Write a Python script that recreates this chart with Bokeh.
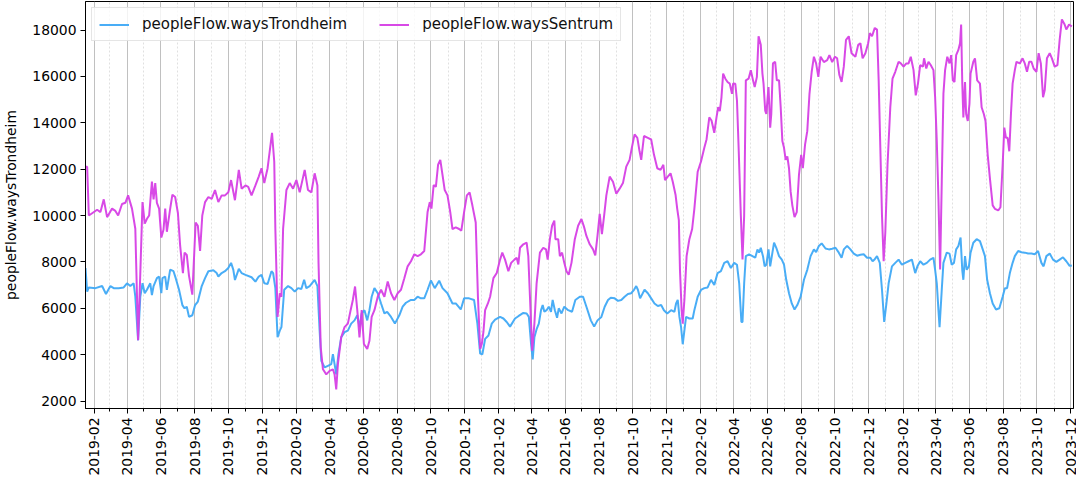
import math
import pandas as pd
from bokeh.plotting import figure
from bokeh.models import FixedTicker, DatetimeTickFormatter, Range1d
from bokeh.embed import file_html
from bokeh.resources import INLINE

# ---------------- data ----------------
trondheim_dates = [
    "2019-01-16", "2019-01-19", "2019-01-22", "2019-02-03", "2019-02-15", "2019-02-22", "2019-03-02", "2019-03-08",
    "2019-03-17", "2019-03-26", "2019-04-01", "2019-04-07", "2019-04-13", "2019-04-16", "2019-04-21", "2019-04-25",
    "2019-04-29", "2019-05-03", "2019-05-07", "2019-05-13", "2019-05-16", "2019-05-19", "2019-05-25", "2019-05-29",
    "2019-06-02", "2019-06-04", "2019-06-09", "2019-06-12", "2019-06-18", "2019-06-24", "2019-06-28", "2019-07-04",
    "2019-07-10", "2019-07-14", "2019-07-18", "2019-07-22", "2019-07-28", "2019-08-02", "2019-08-07", "2019-08-14",
    "2019-08-20", "2019-08-26", "2019-09-04", "2019-09-10", "2019-09-13", "2019-09-19", "2019-09-25", "2019-10-01",
    "2019-10-06", "2019-10-10", "2019-10-13", "2019-10-20", "2019-10-25", "2019-11-01", "2019-11-12", "2019-11-19",
    "2019-11-25", "2019-11-30", "2019-12-05", "2019-12-11", "2019-12-18", "2019-12-21", "2019-12-25", "2019-12-29",
    "2020-01-02", "2020-01-05", "2020-01-10", "2020-01-17", "2020-01-23", "2020-01-29", "2020-02-04", "2020-02-10",
    "2020-02-15", "2020-02-19", "2020-02-25", "2020-03-05", "2020-03-10", "2020-03-14", "2020-03-17", "2020-03-23",
    "2020-03-29", "2020-04-04", "2020-04-07", "2020-04-10", "2020-04-13", "2020-04-17", "2020-04-22", "2020-04-28",
    "2020-05-04", "2020-05-10", "2020-05-16", "2020-05-21", "2020-05-25", "2020-05-29", "2020-06-03", "2020-06-08",
    "2020-06-12", "2020-06-16", "2020-06-21", "2020-06-27", "2020-07-03", "2020-07-09", "2020-07-14", "2020-07-21",
    "2020-07-28", "2020-08-05", "2020-08-11", "2020-08-17", "2020-08-26", "2020-09-01", "2020-09-07", "2020-09-13",
    "2020-09-19", "2020-09-25", "2020-10-01", "2020-10-08", "2020-10-16", "2020-10-22", "2020-10-31", "2020-11-09",
    "2020-11-15", "2020-11-24", "2020-11-30", "2020-12-09", "2020-12-18", "2020-12-24", "2020-12-29", "2021-01-02",
    "2021-01-07", "2021-01-13", "2021-01-19", "2021-01-25", "2021-02-03", "2021-02-09", "2021-02-15", "2021-02-21",
    "2021-03-02", "2021-03-08", "2021-03-17", "2021-03-23", "2021-03-27", "2021-03-31", "2021-04-03", "2021-04-06",
    "2021-04-10", "2021-04-14", "2021-04-18", "2021-04-21", "2021-04-24", "2021-04-28", "2021-05-02", "2021-05-06",
    "2021-05-09", "2021-05-13", "2021-05-17", "2021-05-20", "2021-05-25", "2021-05-30", "2021-06-06", "2021-06-13",
    "2021-06-19", "2021-06-27", "2021-07-03", "2021-07-09", "2021-07-17", "2021-07-23", "2021-07-29", "2021-08-05",
    "2021-08-11", "2021-08-17", "2021-08-22", "2021-08-29", "2021-09-04", "2021-09-10", "2021-09-16", "2021-09-22",
    "2021-09-28", "2021-10-03", "2021-10-07", "2021-10-10", "2021-10-14", "2021-10-22", "2021-10-28", "2021-11-03",
    "2021-11-09", "2021-11-15", "2021-11-21", "2021-11-26", "2021-12-02", "2021-12-09", "2021-12-15", "2021-12-18",
    "2021-12-21", "2021-12-24", "2021-12-27", "2021-12-30", "2022-01-05", "2022-01-11", "2022-01-17", "2022-01-20",
    "2022-01-26", "2022-02-01", "2022-02-07", "2022-02-13", "2022-02-19", "2022-02-25", "2022-03-03", "2022-03-09",
    "2022-03-15", "2022-03-21", "2022-03-27", "2022-04-02", "2022-04-07", "2022-04-11", "2022-04-15", "2022-04-17",
    "2022-04-20", "2022-04-23", "2022-04-29", "2022-05-05", "2022-05-10", "2022-05-14", "2022-05-17", "2022-05-20",
    "2022-05-24", "2022-05-27", "2022-05-30", "2022-06-03", "2022-06-06", "2022-06-09", "2022-06-13", "2022-06-17",
    "2022-06-22", "2022-06-27", "2022-07-01", "2022-07-05", "2022-07-10", "2022-07-15", "2022-07-20", "2022-07-25",
    "2022-07-31", "2022-08-06", "2022-08-12", "2022-08-18", "2022-08-24", "2022-08-28", "2022-09-02", "2022-09-07",
    "2022-09-14", "2022-09-20", "2022-09-26", "2022-10-02", "2022-10-08", "2022-10-13", "2022-10-17", "2022-10-23",
    "2022-10-29", "2022-11-04", "2022-11-10", "2022-11-16", "2022-11-22", "2022-11-28", "2022-12-04", "2022-12-08",
    "2022-12-12", "2022-12-16", "2022-12-21", "2022-12-25", "2022-12-29", "2023-01-02", "2023-01-06", "2023-01-12",
    "2023-01-18", "2023-01-24", "2023-01-30", "2023-02-05", "2023-02-11", "2023-02-17", "2023-02-23", "2023-02-27",
    "2023-03-04", "2023-03-10", "2023-03-16", "2023-03-22", "2023-03-28", "2023-03-31", "2023-04-03", "2023-04-06",
    "2023-04-08", "2023-04-12", "2023-04-15", "2023-04-21", "2023-04-26", "2023-04-30", "2023-05-04", "2023-05-08",
    "2023-05-12", "2023-05-16", "2023-05-19", "2023-05-21", "2023-05-24", "2023-05-27", "2023-05-31", "2023-06-03",
    "2023-06-08", "2023-06-14", "2023-06-20", "2023-06-25", "2023-06-29", "2023-07-03", "2023-07-08", "2023-07-13",
    "2023-07-19", "2023-07-25", "2023-07-31", "2023-08-04", "2023-08-08", "2023-08-13", "2023-08-18", "2023-08-22",
    "2023-08-28", "2023-09-03", "2023-09-09", "2023-09-15", "2023-09-21", "2023-09-27", "2023-10-03", "2023-10-09",
    "2023-10-13", "2023-10-18", "2023-10-24", "2023-10-30", "2023-11-05", "2023-11-11", "2023-11-17", "2023-11-23",
    "2023-11-29", "2023-12-03",
]
trondheim = [
    7740, 6720, 6900, 6870, 6960, 6620, 6960, 6870,
    6870, 6900, 7080, 6960, 7080, 6500, 4620, 6500,
    7080, 6650, 6800, 7080, 6570, 6960, 7300, 7370,
    6650, 7300, 7370, 6800, 7670, 7600, 7300, 6800,
    6140, 6000, 6070, 5630, 5700, 6140, 6290, 6960,
    7300, 7600, 7640, 7520, 7370, 7520, 7600, 7740,
    7960, 7670, 7220, 7700, 7520, 7440, 7340, 7150,
    7370, 7440, 7080, 7050, 7600, 7520, 6870, 4750,
    5040, 5190, 6800, 6960, 6870, 6720, 6870, 6830,
    7230, 6870, 6960, 7230, 6960, 5040, 3740, 3450,
    3520, 3590, 4020, 3590, 3150, 4020, 4750, 4970,
    5040, 5340, 5480, 5700, 5190, 5780, 5920, 5480,
    5920, 6500, 6870, 6650, 6210, 5780, 5850, 5630,
    5340, 5700, 6070, 6240, 6360, 6360, 6500, 6430,
    6430, 6800, 7200, 6870, 7190, 6870, 6650, 6210,
    6210, 5950, 6430, 6430, 6360, 5340, 4050, 4020,
    4680, 4830, 5340, 5510, 5630, 5560, 5410, 5210,
    5560, 5660, 5800, 5780, 5630, 4460, 3800, 4750,
    5100, 5340, 5920, 6140, 5850, 5920, 6070, 5850,
    6360, 5920, 5590, 6000, 5780, 6070, 5920, 5850,
    6360, 6500, 6500, 6070, 5480, 5210, 5480, 5630,
    6070, 6360, 6460, 6430, 6320, 6360, 6500, 6620,
    6650, 6800, 6960, 6800, 6430, 6800, 6650, 6430,
    6210, 6100, 6140, 5920, 5780, 5920, 5850, 6210,
    6360, 5630, 5190, 4450, 5630, 5560, 5560, 5920,
    6500, 6790, 6870, 6900, 7230, 7010, 7520, 7600,
    7960, 8030, 7740, 7960, 7880, 7080, 5410, 5410,
    7080, 8250, 8330, 8250, 8180, 8540, 8400, 8610,
    8250, 7810, 7880, 8540, 7810, 8250, 8830, 8610,
    8250, 8100, 7880, 7230, 6650, 6210, 5950, 6140,
    6500, 7230, 7660, 8250, 8540, 8420, 8690, 8800,
    8580, 8540, 8570, 8610, 8400, 8180, 8540, 8690,
    8540, 8360, 8270, 8310, 8330, 8180, 8180, 8030,
    8120, 8250, 7960, 6800, 5410, 6210, 7080, 7810,
    7960, 8100, 7880, 7960, 8030, 8100, 7520, 7810,
    8030, 7880, 7960, 8100, 8180, 7660, 7080, 5920,
    5190, 6800, 7960, 8400, 8360, 7880, 7960, 8540,
    8690, 9050, 7660, 7230, 8250, 7660, 7810, 8400,
    8830, 8980, 8900, 8540, 8250, 7230, 6650, 6210,
    5950, 6000, 6500, 6870, 6870, 7520, 7960, 8250,
    8470, 8420, 8400, 8360, 8360, 8330, 8470, 7960,
    7810, 8250, 8360, 8100, 8000, 8100, 8200, 8030,
    7830, 7850,
]

sentrum_dates = [
    "2019-01-16", "2019-01-19", "2019-01-22", "2019-01-28", "2019-02-06", "2019-02-12", "2019-02-18", "2019-02-24",
    "2019-03-05", "2019-03-11", "2019-03-16", "2019-03-23", "2019-03-29", "2019-04-03", "2019-04-10", "2019-04-16",
    "2019-04-21", "2019-04-25", "2019-04-29", "2019-05-03", "2019-05-07", "2019-05-11", "2019-05-16", "2019-05-19",
    "2019-05-22", "2019-05-25", "2019-05-29", "2019-06-02", "2019-06-06", "2019-06-09", "2019-06-12", "2019-06-18",
    "2019-06-22", "2019-06-27", "2019-07-02", "2019-07-06", "2019-07-11", "2019-07-14", "2019-07-18", "2019-07-22",
    "2019-07-28", "2019-08-03", "2019-08-07", "2019-08-11", "2019-08-15", "2019-08-20", "2019-08-26", "2019-09-01",
    "2019-09-07", "2019-09-13", "2019-09-19", "2019-09-25", "2019-10-01", "2019-10-06", "2019-10-13", "2019-10-20",
    "2019-10-25", "2019-11-01", "2019-11-06", "2019-11-12", "2019-11-19", "2019-11-25", "2019-11-30", "2019-12-05",
    "2019-12-11", "2019-12-19", "2019-12-23", "2019-12-25", "2019-12-29", "2020-01-02", "2020-01-05", "2020-01-08",
    "2020-01-14", "2020-01-20", "2020-01-26", "2020-02-01", "2020-02-07", "2020-02-16", "2020-02-22", "2020-02-28",
    "2020-03-05", "2020-03-10", "2020-03-12", "2020-03-16", "2020-03-20", "2020-03-26", "2020-04-01", "2020-04-07",
    "2020-04-10", "2020-04-13", "2020-04-16", "2020-04-22", "2020-04-28", "2020-05-04", "2020-05-09", "2020-05-13",
    "2020-05-17", "2020-05-21", "2020-05-25", "2020-05-29", "2020-06-02", "2020-06-08", "2020-06-12", "2020-06-16",
    "2020-06-21", "2020-06-27", "2020-07-03", "2020-07-09", "2020-07-15", "2020-07-21", "2020-07-27", "2020-08-02",
    "2020-08-08", "2020-08-14", "2020-08-20", "2020-08-26", "2020-09-01", "2020-09-07", "2020-09-13", "2020-09-19",
    "2020-09-25", "2020-09-29", "2020-10-02", "2020-10-06", "2020-10-10", "2020-10-14", "2020-10-18", "2020-10-22",
    "2020-10-26", "2020-10-31", "2020-11-05", "2020-11-09", "2020-11-15", "2020-11-21", "2020-11-25", "2020-11-30",
    "2020-12-05", "2020-12-10", "2020-12-15", "2020-12-21", "2020-12-25", "2020-12-29", "2021-01-01", "2021-01-04",
    "2021-01-07", "2021-01-12", "2021-01-16", "2021-01-22", "2021-01-28", "2021-02-03", "2021-02-07", "2021-02-12",
    "2021-02-18", "2021-02-23", "2021-03-01", "2021-03-05", "2021-03-08", "2021-03-11", "2021-03-17", "2021-03-23",
    "2021-03-26", "2021-03-29", "2021-04-02", "2021-04-06", "2021-04-10", "2021-04-16", "2021-04-22", "2021-04-27",
    "2021-04-30", "2021-05-04", "2021-05-08", "2021-05-12", "2021-05-14", "2021-05-19", "2021-05-22", "2021-05-26",
    "2021-05-30", "2021-06-03", "2021-06-07", "2021-06-12", "2021-06-18", "2021-06-24", "2021-06-30", "2021-07-05",
    "2021-07-09", "2021-07-15", "2021-07-21", "2021-07-25", "2021-07-29", "2021-08-02", "2021-08-06", "2021-08-10",
    "2021-08-14", "2021-08-20", "2021-08-26", "2021-09-01", "2021-09-07", "2021-09-13", "2021-09-19", "2021-09-25",
    "2021-09-29", "2021-10-04", "2021-10-09", "2021-10-13", "2021-10-16", "2021-10-21", "2021-10-28", "2021-11-03",
    "2021-11-08", "2021-11-14", "2021-11-20", "2021-11-25", "2021-11-28", "2021-12-03", "2021-12-08", "2021-12-12",
    "2021-12-17", "2021-12-20", "2021-12-23", "2021-12-25", "2021-12-28", "2021-12-30", "2022-01-02", "2022-01-06",
    "2022-01-11", "2022-01-16", "2022-01-20", "2022-01-26", "2022-02-01", "2022-02-07", "2022-02-11", "2022-02-16",
    "2022-02-20", "2022-02-25", "2022-03-01", "2022-03-04", "2022-03-07", "2022-03-10", "2022-03-13", "2022-03-17",
    "2022-03-21", "2022-03-25", "2022-03-29", "2022-03-31", "2022-04-04", "2022-04-07", "2022-04-10", "2022-04-14",
    "2022-04-17", "2022-04-20", "2022-04-23", "2022-04-28", "2022-05-02", "2022-05-06", "2022-05-09", "2022-05-13",
    "2022-05-16", "2022-05-20", "2022-05-23", "2022-05-25", "2022-05-28", "2022-05-30", "2022-06-03", "2022-06-06",
    "2022-06-08", "2022-06-11", "2022-06-15", "2022-06-18", "2022-06-22", "2022-06-25", "2022-06-28", "2022-07-01",
    "2022-07-04", "2022-07-07", "2022-07-10", "2022-07-13", "2022-07-16", "2022-07-20", "2022-07-24", "2022-07-28",
    "2022-08-01", "2022-08-04", "2022-08-08", "2022-08-12", "2022-08-16", "2022-08-20", "2022-08-24", "2022-08-28",
    "2022-09-01", "2022-09-05", "2022-09-11", "2022-09-17", "2022-09-21", "2022-09-26", "2022-10-01", "2022-10-05",
    "2022-10-09", "2022-10-13", "2022-10-17", "2022-10-21", "2022-10-26", "2022-10-31", "2022-11-07", "2022-11-12",
    "2022-11-16", "2022-11-20", "2022-11-25", "2022-11-30", "2022-12-03", "2022-12-07", "2022-12-12", "2022-12-16",
    "2022-12-19", "2022-12-22", "2022-12-25", "2022-12-28", "2022-12-31", "2023-01-04", "2023-01-09", "2023-01-13",
    "2023-01-18", "2023-01-24", "2023-01-28", "2023-02-02", "2023-02-07", "2023-02-11", "2023-02-15", "2023-02-20",
    "2023-02-24", "2023-02-28", "2023-03-04", "2023-03-09", "2023-03-11", "2023-03-15", "2023-03-19", "2023-03-23",
    "2023-03-28", "2023-03-31", "2023-04-03", "2023-04-06", "2023-04-09", "2023-04-12", "2023-04-15", "2023-04-18",
    "2023-04-22", "2023-04-26", "2023-04-29", "2023-05-02", "2023-05-05", "2023-05-08", "2023-05-12", "2023-05-15",
    "2023-05-17", "2023-05-19", "2023-05-21", "2023-05-24", "2023-05-26", "2023-05-29", "2023-06-01", "2023-06-03",
    "2023-06-08", "2023-06-11", "2023-06-15", "2023-06-20", "2023-06-23", "2023-06-27", "2023-06-30", "2023-07-04",
    "2023-07-08", "2023-07-13", "2023-07-17", "2023-07-23", "2023-07-27", "2023-07-31", "2023-08-03", "2023-08-06",
    "2023-08-09", "2023-08-12", "2023-08-15", "2023-08-18", "2023-08-22", "2023-08-25", "2023-08-31", "2023-09-05",
    "2023-09-09", "2023-09-13", "2023-09-17", "2023-09-21", "2023-09-25", "2023-09-30", "2023-10-04", "2023-10-08",
    "2023-10-12", "2023-10-15", "2023-10-19", "2023-10-24", "2023-10-28", "2023-11-02", "2023-11-07", "2023-11-11",
    "2023-11-15", "2023-11-20", "2023-11-23", "2023-11-28", "2023-12-03",
]
sentrum = [
    12100, 12100, 10000, 10100, 10250, 10150, 10700, 9930,
    10300, 10200, 10000, 10500, 10550, 10870, 10300, 9430,
    4620, 7500, 10580, 9650, 9860, 10000, 11460, 10700,
    11400, 10550, 10300, 9050, 9400, 10300, 9300, 10300,
    10900, 10800, 10100, 8700, 7520, 8400, 8300, 7400,
    6590, 9700, 9560, 8470, 10000, 10580, 10800, 10720,
    11100, 10580, 10870, 10870, 11000, 11530, 10660, 11970,
    11160, 11300, 11240, 10870, 11300, 11680, 12040, 11400,
    12040, 13570, 12330, 9430, 5630, 6650, 6500, 9430,
    11100, 11400, 11160, 11530, 11000, 11970, 11100, 11000,
    11820, 11300, 7960, 4320, 3370, 3150, 3300, 3370,
    3150, 2500, 3590, 4750, 5190, 5340, 5920, 6360,
    6940, 5920, 4750, 5920, 4460, 4250, 4600, 5630,
    5920, 6500, 6800, 6500, 7160, 6650, 6360, 6650,
    6800, 7300, 7810, 8030, 8330, 8250, 8330, 8470,
    10150, 10580, 10300, 11310, 11240, 12190, 12400, 11750,
    11100, 10870, 10150, 9420, 9490, 9420, 9350, 10150,
    10870, 11000, 10430, 9700, 6500, 4250, 4460, 5000,
    5920, 6210, 6500, 7300, 7520, 8100, 8400, 8100,
    7600, 7960, 8100, 8180, 7890, 8610, 8760, 8830,
    8250, 6500, 4170, 5340, 7080, 8400, 8610, 8540,
    8100, 8980, 9560, 9780, 8980, 8980, 8250, 8400,
    7960, 7600, 7450, 7960, 8980, 9560, 9850, 9490,
    9120, 8760, 8540, 8280, 9120, 10070, 9200, 10000,
    10870, 11680, 11460, 10940, 11160, 11400, 12110, 12400,
    12920, 13500, 13350, 12770, 12400, 13430, 13350, 13280,
    12630, 12040, 11970, 12190, 11530, 11680, 11820, 11460,
    10900, 10300, 9800, 7670, 5920, 5340, 6360, 8250,
    8980, 9420, 10290, 11890, 12330, 12920, 13280, 14230,
    14100, 13570, 14230, 14670, 14500, 15100, 16120, 15900,
    15760, 15690, 15250, 15690, 15680, 14960, 12920, 10000,
    8110, 10000, 15830, 15900, 16270, 15830, 15540, 15980,
    17730, 17360, 16120, 15690, 14520, 14380, 15540, 13790,
    14380, 16560, 16630, 15830, 15830, 14670, 13210, 12920,
    12400, 12550, 12040, 11020, 10440, 9930, 10150, 11750,
    12620, 12040, 13060, 13640, 15250, 16200, 16850, 16560,
    15980, 16850, 16620, 16700, 16920, 16620, 16850, 16780,
    16060, 15760, 16420, 17580, 17730, 17000, 16850, 17360,
    17430, 16780, 17000, 17430, 17870, 17730, 18090, 18020,
    15830, 12920, 10000, 8030, 9270, 12190, 14670, 15900,
    16200, 16630, 16560, 16420, 16560, 16560, 16850, 16270,
    15180, 15690, 16490, 16420, 16780, 16340, 16630, 16490,
    16270, 15100, 13210, 10730, 7670, 11460, 15250, 16270,
    16850, 16560, 16920, 15830, 15760, 16920, 17140, 17430,
    18240, 15760, 14230, 15760, 14380, 14080, 14810, 16120,
    16630, 16780, 15830, 15690, 14670, 14380, 14080, 12620,
    11600, 10440, 10290, 10220, 10360, 12190, 13790, 13350,
    13350, 12770, 14380, 15690, 16270, 16630, 16560, 16780,
    16560, 16200, 16630, 16630, 16340, 16200, 17000, 16560,
    15100, 15400, 16780, 17000, 16780, 16420, 16490, 17580,
    18460, 18240, 18020, 18240, 18150,
]

y_ticks = [2000, 4000, 6000, 8000, 10000, 12000, 14000, 16000, 18000]
x_start, x_end = "2019-01-16", "2023-12-06"
y_start, y_end = 1680, 19230

series_labels = ["peopleFlow.waysTrondheim", "peopleFlow.waysSentrum"]
y_axis_label = "peopleFlow.waysTrondheim"

# ---------------- figure ----------------
FONT = "DejaVu Sans"
FS = "13.9px"

t_x = pd.to_datetime(trondheim_dates)
s_x = pd.to_datetime(sentrum_dates)

p = figure(
    width=1076, height=478,
    x_axis_type="datetime",
    x_range=Range1d(pd.Timestamp(x_start), pd.Timestamp(x_end)),
    y_range=Range1d(y_start, y_end),
    output_backend="svg", toolbar_location=None,
    min_border_left=75, min_border_right=3, min_border_top=1, min_border_bottom=10,
)
p.background_fill_color = "white"
p.border_fill_color = "white"
p.outline_line_color = "black"
p.outline_line_width = 1

p.line(t_x, trondheim, line_color="#3fa9f5", line_width=2, line_alpha=0.95, legend_label=series_labels[0])
p.line(s_x, sentrum, line_color="#d63fe5", line_width=2, line_alpha=0.95, legend_label=series_labels[1])

# ticks
major = pd.date_range("2019-02-01", "2023-12-01", freq="2MS")
minor = [d for d in pd.date_range("2019-01-01", "2023-12-01", freq="MS") if d not in set(major)]
to_ms = lambda ds: [d.value / 1e6 for d in ds]
p.xaxis.ticker = FixedTicker(ticks=to_ms(major), minor_ticks=to_ms(minor))
fmt = "%Y-%m"
p.xaxis.formatter = DatetimeTickFormatter(
    milliseconds=fmt, seconds=fmt, minsec=fmt, minutes=fmt, hourmin=fmt,
    hours=fmt, days=fmt, months=fmt, years=fmt,
)
p.xaxis.major_label_orientation = math.pi / 2
p.yaxis.ticker = FixedTicker(ticks=y_ticks)

for ax in (p.xaxis[0], p.yaxis[0]):
    ax.axis_line_color = "black"
    ax.major_tick_line_color = "black"
    ax.major_tick_in = 0
    ax.major_tick_out = 5
    ax.major_label_text_font = FONT
    ax.major_label_text_font_size = FS
    ax.major_label_text_color = "black"
    ax.major_label_standoff = 4
p.xaxis.minor_tick_in = 0
p.xaxis.minor_tick_out = 3
p.xaxis.minor_tick_line_color = "black"
p.yaxis.minor_tick_line_color = None

p.yaxis.axis_label = y_axis_label
p.yaxis.axis_label_text_font = FONT
p.yaxis.axis_label_text_font_size = FS
p.yaxis.axis_label_text_font_style = "normal"
p.yaxis.axis_label_text_color = "black"
p.yaxis.axis_label_standoff = 10

# grid: vertical only
p.ygrid.grid_line_color = None
p.xgrid.grid_line_color = "#b0b0b0"
p.xgrid.grid_line_width = 0.8
p.xgrid.minor_grid_line_color = "#d8d8d8"
p.xgrid.minor_grid_line_width = 0.8
p.xgrid.minor_grid_line_dash = "2 2"

# legend
lg = p.legend[0]
lg.location = "top_left"
lg.orientation = "horizontal"
lg.margin = 6
lg.padding = 7
lg.spacing = 32
lg.glyph_width = 30
lg.glyph_height = 13
lg.label_height = 13
lg.label_standoff = 13
lg.label_text_font = FONT
lg.label_text_font_size = "15px"
lg.label_text_color = "#111111"
lg.border_line_color = "#cccccc"
lg.border_line_width = 1
lg.background_fill_color = "white"
lg.background_fill_alpha = 0.8

open("out.html", "w").write(file_html(p, INLINE))
